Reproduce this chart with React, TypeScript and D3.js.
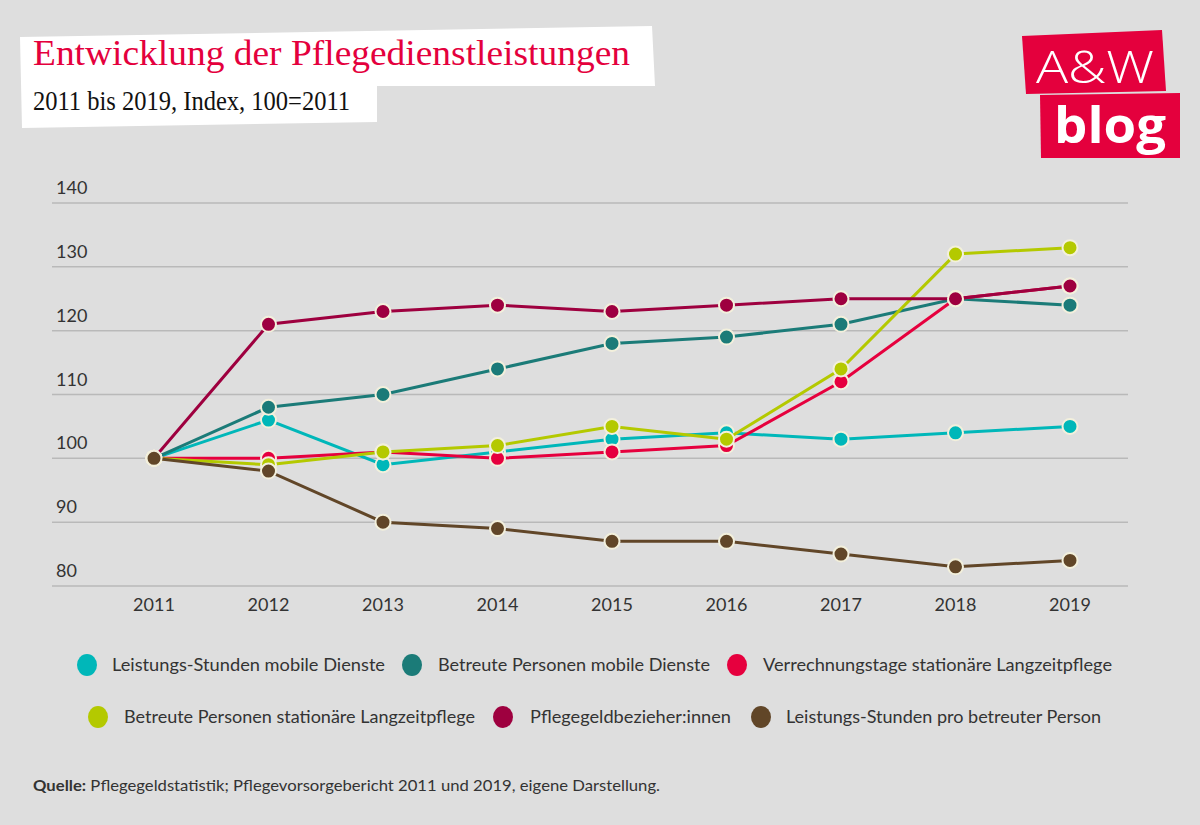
import React from "react";
import * as d3 from "d3";

const years = [2011, 2012, 2013, 2014, 2015, 2016, 2017, 2018, 2019];
const yTicks = [80, 90, 100, 110, 120, 130, 140];

const leistungsStundenMobil = [100, 106, 99, 101, 103, 104, 103, 104, 105];
const betreutePersonenMobil = [100, 108, 110, 114, 118, 119, 121, 125, 124];
const verrechnungstage = [100, 100, 101, 100, 101, 102, 112, 125, 127];
const betreutePersonenStationaer = [100, 99, 101, 102, 105, 103, 114, 132, 133];
const pflegegeldbezieher = [100, 121, 123, 124, 123, 124, 125, 125, 127];
const stundenProPerson = [100, 98, 90, 89, 87, 87, 85, 83, 84];

const seriesNames = [
  "Leistungs-Stunden mobile Dienste",
  "Betreute Personen mobile Dienste",
  "Verrechnungstage stationäre Langzeitpflege",
  "Betreute Personen stationäre Langzeitpflege",
  "Pflegegeldbezieher:innen",
  "Leistungs-Stunden pro betreuter Person",
];
const seriesValues = [
  leistungsStundenMobil,
  betreutePersonenMobil,
  verrechnungstage,
  betreutePersonenStationaer,
  pflegegeldbezieher,
  stundenProPerson,
];
const seriesColors = ["#00b7b9", "#1b7b78", "#e6003e", "#b4c900", "#9e003f", "#614628"];

// legend layout: [x of circle, y, text x, text width]
const legendPos = [
  [87, 665, 112, 273],
  [412, 665, 438, 272],
  [737, 665, 763, 349],
  [98, 717, 124, 351],
  [503, 717, 530, 201],
  [761, 717, 786, 315],
];

const drawOrder = [0, 1, 2, 3, 4, 5];

export default function App() {
  const W = 1200;
  const H = 825;
  const x = d3.scalePoint<number>().domain(years).range([154, 1070]);
  const y = d3.scaleLinear().domain([80, 140]).range([586, 203]);
  const line = d3
    .line<number>()
    .x((_, i) => x(years[i]) as number)
    .y((d) => y(d));
  const font = "Lato, 'Open Sans', sans-serif";
  const legendFont = "Lato, 'Open Sans', sans-serif";
  const serif = "'Liberation Serif', 'DejaVu Serif', serif";

  return (
    <svg
      width={W}
      height={H}
      style={{ position: "absolute", left: 0, top: 0, display: "block" }}
    >
      <rect x={0} y={0} width={W} height={H} fill="#dedede" />
      {/* title box */}
      <polygon points="20,37 652,26 655,86 377,86 377,122 22,128" fill="#ffffff" />
      <text
        x={33}
        y={65}
        fill="#e4003d"
        fontFamily={serif}
        fontSize={36}
        textLength={597}
        lengthAdjust="spacingAndGlyphs"
      >
        Entwicklung der Pflegedienstleistungen
      </text>
      <text
        x={33}
        y={110}
        fill="#111"
        fontFamily={serif}
        fontSize={27}
        textLength={317}
        lengthAdjust="spacingAndGlyphs"
      >
        2011 bis 2019, Index, 100=2011
      </text>

      {/* logo */}
      <polygon points="1022,36 1162,30 1166,91 1026,94" fill="#e4003d" />
      <text
        x={1095}
        y={83}
        textAnchor="middle"
        fill="#fff"
        fontFamily="'Open Sans', 'Liberation Sans', sans-serif"
        fontSize={44}
        fontWeight={300}
        textLength={118}
        lengthAdjust="spacingAndGlyphs"
      >
        A&amp;W
      </text>
      <polygon points="1040,95 1180,93 1180,158 1041,158" fill="#e4003d" />
      <text
        x={1110}
        y={143}
        textAnchor="middle"
        fill="#fff"
        fontFamily="'Open Sans', 'Liberation Sans', sans-serif"
        fontSize={50}
        fontWeight={700}
        textLength={112}
        lengthAdjust="spacingAndGlyphs"
      >
        blog
      </text>

      {/* grid + y labels */}
      {yTicks.map((t) => (
        <g key={t}>
          <line x1={52} x2={1128} y1={y(t)} y2={y(t)} stroke="#b9b9b9" strokeWidth={1.5} />
          <text x={56} y={y(t) - 9} fill="#333" fontFamily={font} fontSize={18}>
            {t}
          </text>
        </g>
      ))}
      {/* x labels */}
      {years.map((yr) => (
        <text
          key={yr}
          x={x(yr)}
          y={611}
          textAnchor="middle"
          fill="#333"
          fontFamily={font}
          fontSize={18}
        >
          {yr}
        </text>
      ))}

      {/* series */}
      {drawOrder.map((si) => (
        <g key={si}>
          <path
            d={line(seriesValues[si]) || ""}
            fill="none"
            stroke={seriesColors[si]}
            strokeWidth={3}
          />
          {seriesValues[si].map((v, i) => (
            <circle
              key={i}
              cx={x(years[i])}
              cy={y(v)}
              r={7.5}
              fill={seriesColors[si]}
              stroke="#f3f0dc"
              strokeWidth={2}
            />
          ))}
        </g>
      ))}

      {/* legend */}
      {seriesNames.map((n, i) => (
        <g key={n}>
          <ellipse cx={legendPos[i][0]} cy={legendPos[i][1]} rx={10} ry={11} fill={seriesColors[i]} />
          <text
            x={legendPos[i][2]}
            y={legendPos[i][1] + 6}
            fill="#333"
            fontFamily={legendFont}
            fontSize={17}
            textLength={legendPos[i][3]}
            lengthAdjust="spacingAndGlyphs"
          >
            {n}
          </text>
        </g>
      ))}

      {/* source */}
      <text x={33} y={791} fill="#333" fontFamily={legendFont} fontSize={16} textLength={627} lengthAdjust="spacingAndGlyphs">
        <tspan fontWeight={700}>Quelle:</tspan>
        <tspan> Pflegegeldstatistik; Pflegevorsorgebericht 2011 und 2019, eigene Darstellung.</tspan>
      </text>
    </svg>
  );
}
